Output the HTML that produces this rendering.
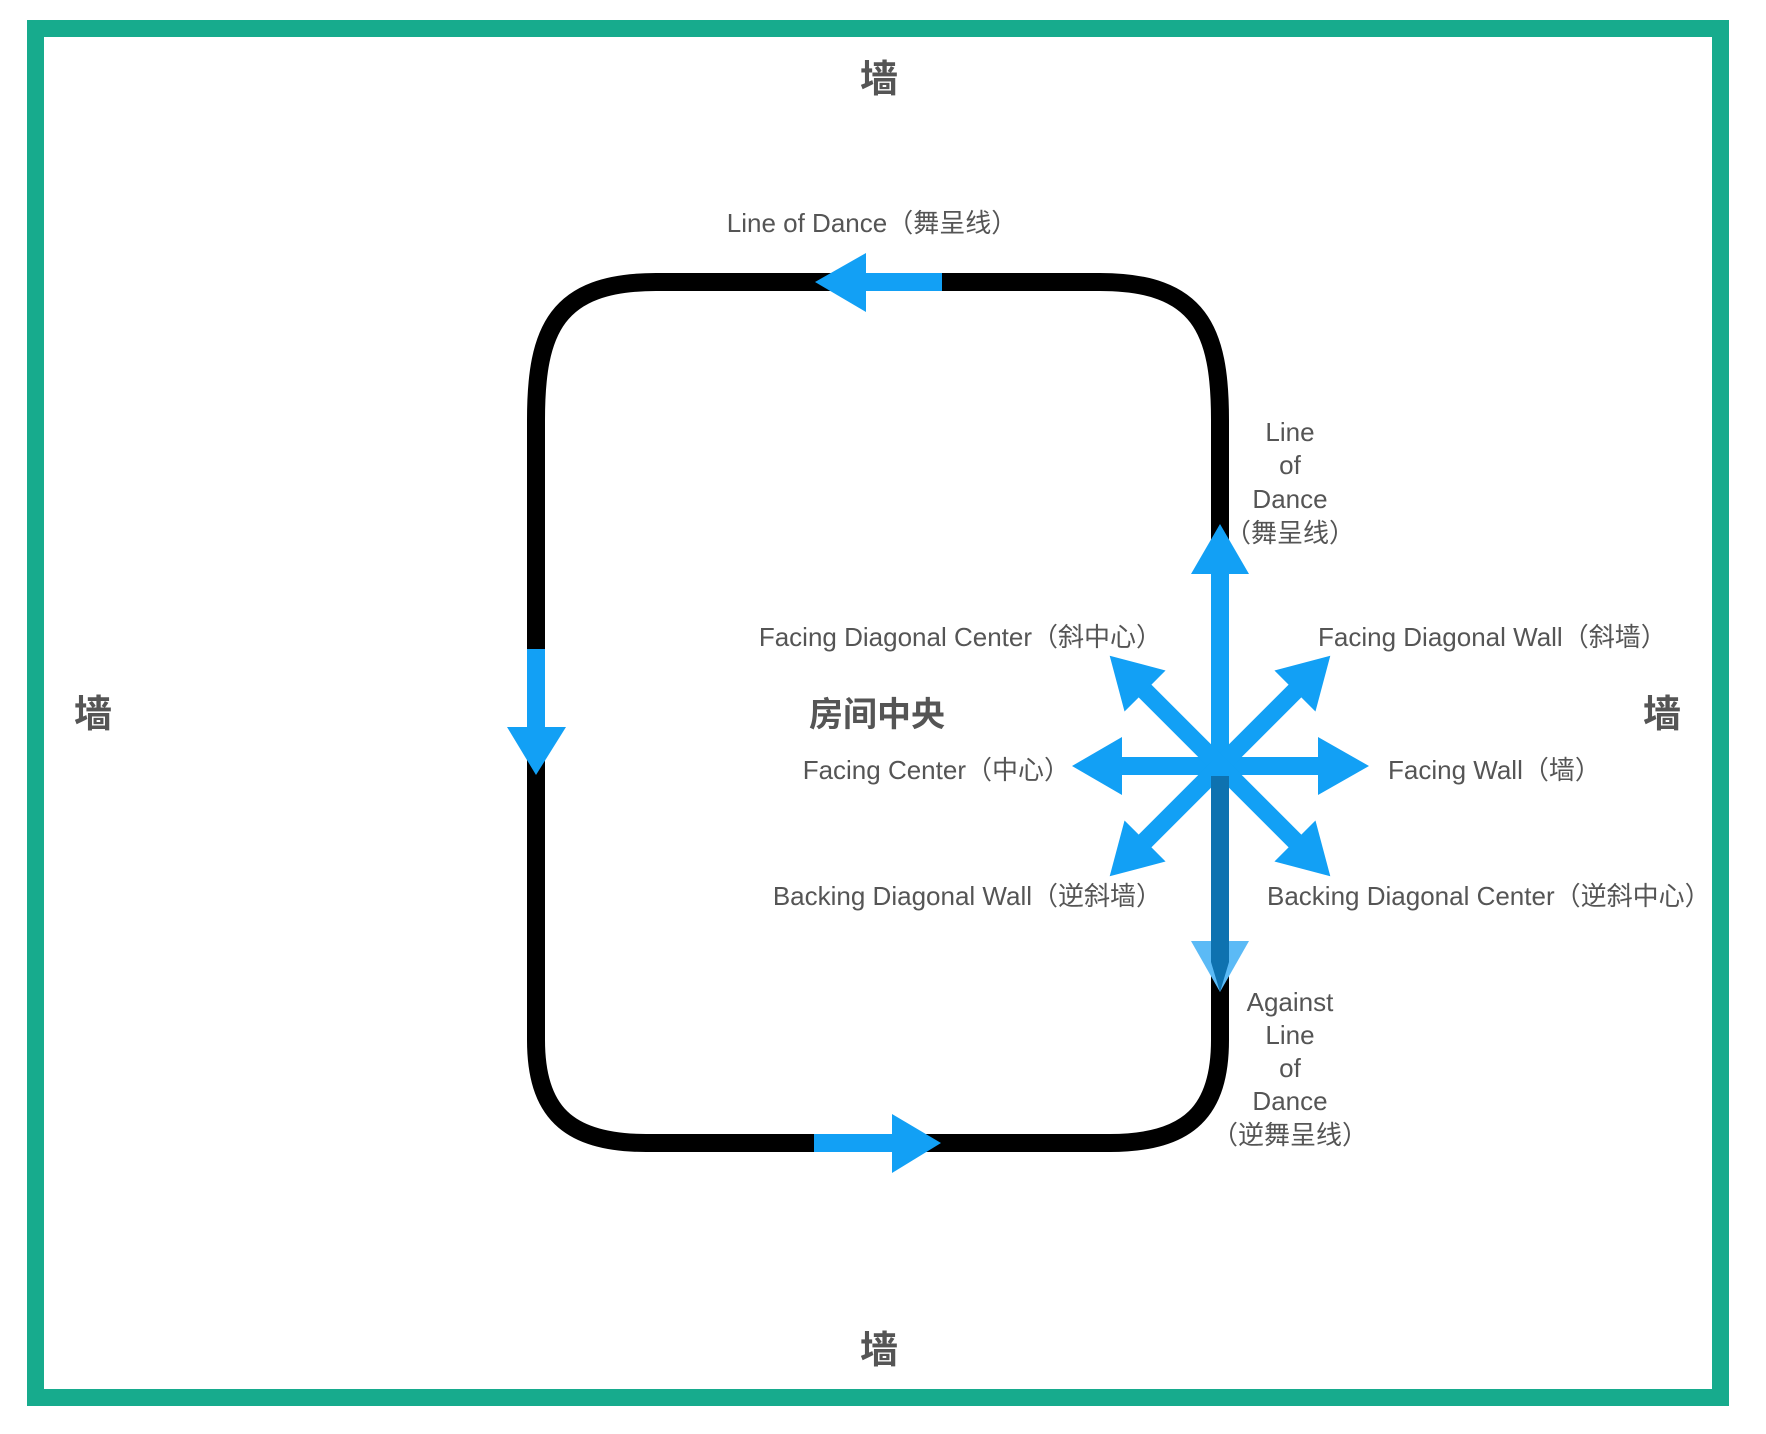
<!DOCTYPE html>
<html><head><meta charset="utf-8"><style>
html,body{margin:0;padding:0;background:#fff;}
svg{display:block;}
text{font-family:"Liberation Sans","Noto Sans CJK SC",sans-serif;fill:#555;}
</style></head><body>
<svg width="1766" height="1434" viewBox="0 0 1766 1434" xmlns="http://www.w3.org/2000/svg">
<rect x="35.5" y="28.5" width="1685" height="1369" fill="none" stroke="#17ab8d" stroke-width="17"/>
<path d="M656,282 H1100 C1200,282 1220,330 1220,420 V1040 C1220,1110 1190,1143 1110,1143 H646 C566,1143 536,1110 536,1040 V420 C536,330 556,282 656,282 Z" fill="none" stroke="#000" stroke-width="18"/>
<g fill="#12a0f5">
<rect x="864" y="273" width="78" height="18"/><polygon points="866,253 815,282 866,312"/>
<rect x="814" y="1134" width="80" height="18"/><polygon points="892,1114 941,1143 892,1173"/>
<rect x="527" y="649" width="18" height="80"/><polygon points="507,727 566,727 536,775"/>
</g>
<g fill="#12a0f5">
<g transform="translate(1220,766) rotate(0)"><rect x="0" y="-9" width="99" height="18"/><polygon points="98,-29 149,0 98,29"/></g>
<g transform="translate(1220,766) rotate(180)"><rect x="0" y="-9" width="99" height="18"/><polygon points="98,-29 148,0 98,29"/></g>
<g transform="translate(1220,766) rotate(-90)"><rect x="0" y="-9" width="193" height="18"/><polygon points="192,-29 242,0 192,29"/></g>
<g transform="translate(1220,766) rotate(-45)"><rect x="0" y="-9" width="108" height="18"/><polygon points="106,-29 156,0 106,29"/></g>
<g transform="translate(1220,766) rotate(-135)"><rect x="0" y="-9" width="108" height="18"/><polygon points="106,-29 156,0 106,29"/></g>
<g transform="translate(1220,766) rotate(45)"><rect x="0" y="-9" width="108" height="18"/><polygon points="106,-29 156,0 106,29"/></g>
<g transform="translate(1220,766) rotate(135)"><rect x="0" y="-9" width="108" height="18"/><polygon points="106,-29 156,0 106,29"/></g>
</g>
<polygon points="1191,941 1249,941 1220,992" fill="#5bbaf6"/>
<polygon points="1211,776 1229,776 1229,962 1220,992 1211,962" fill="#0e72b0"/>
<g font-size="38" font-weight="bold" text-anchor="middle" dominant-baseline="central">
<text x="879" y="80">墙</text>
<text x="879" y="1351">墙</text>
<text x="93" y="715">墙</text>
<text x="1662" y="715">墙</text>
</g>
<text x="877" y="715" font-size="34" font-weight="bold" text-anchor="middle" dominant-baseline="central">房间中央</text>
<g font-size="26" dominant-baseline="central">
<text x="872" y="223" text-anchor="middle">Line of Dance（舞呈线）</text>
<text x="1162" y="637" text-anchor="end">Facing Diagonal Center（斜中心）</text>
<text x="1318" y="637">Facing Diagonal Wall（斜墙）</text>
<text x="1070" y="770" text-anchor="end">Facing Center（中心）</text>
<text x="1388" y="770">Facing Wall（墙）</text>
<text x="1162" y="896" text-anchor="end">Backing Diagonal Wall（逆斜墙）</text>
<text x="1267" y="896">Backing Diagonal Center（逆斜中心）</text>
<g text-anchor="middle">
<text x="1290" y="432">Line</text>
<text x="1290" y="465">of</text>
<text x="1290" y="499">Dance</text>
<text x="1290" y="533">（舞呈线）</text>
<text x="1290" y="1002">Against</text>
<text x="1290" y="1035">Line</text>
<text x="1290" y="1068">of</text>
<text x="1290" y="1101">Dance</text>
<text x="1290" y="1135">（逆舞呈线）</text>
</g>
</g>
</svg>
</body></html>
